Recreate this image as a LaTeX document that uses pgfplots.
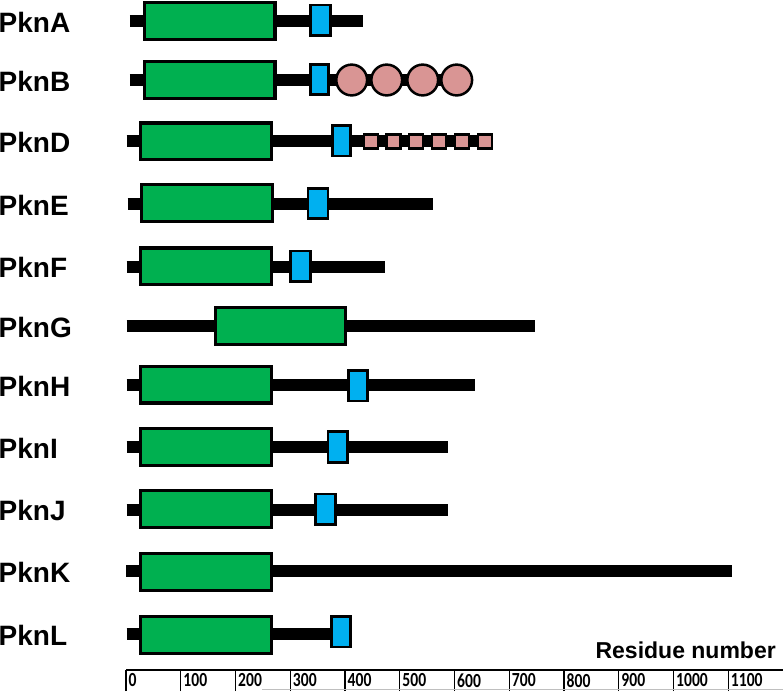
\documentclass[border=0pt]{standalone}
\usepackage{fontspec}
\setmainfont{Liberation Sans}
\newfontfamily\rulerfont[FakeStretch=0.78]{Carlito}
\usepackage{pgfplots}
\pgfplotsset{compat=1.18}
\definecolor{kgreen}{RGB}{0,176,80}
\definecolor{kblue}{RGB}{0,176,240}
\definecolor{kpink}{RGB}{217,149,148}
\begin{document}
\begin{tikzpicture}
\begin{axis}[at={(0pt,0pt)}, anchor=south west, scale only axis,
  width=783pt, height=691pt, xmin=-230.137, xmax=1200, ymin=0, ymax=691,
  y dir=reverse, hide axis, clip=false]
% backbone lines
\addplot[black, line width=12pt] coordinates {(7.3,21) (433,21)};
\addplot[black, line width=12pt] coordinates {(7.3,80) (604,80)};
\addplot[black, line width=12pt] coordinates {(1.3,141) (668,141)};
\addplot[black, line width=12pt] coordinates {(3.1,204) (561.3,204)};
\addplot[black, line width=12pt] coordinates {(1.3,266.5) (473,266.5)};
\addplot[black, line width=12pt] coordinates {(1.3,326) (747,326)};
\addplot[black, line width=12pt] coordinates {(1.3,385) (637.4,385)};
\addplot[black, line width=12pt] coordinates {(1.3,447) (588.7,447)};
\addplot[black, line width=12pt] coordinates {(1.3,509.5) (588.7,509.5)};
\addplot[black, line width=12pt] coordinates {(0,571) (1106.3,571)};
\addplot[black, line width=12pt] coordinates {(1.3,634) (400,634)};
% kinase domains (green)
\addplot[fill=kgreen, draw=black, line width=3.3pt] coordinates {(33.5,2.65) (272.3,2.65) (272.3,39.35) (33.5,39.35)} --cycle;
\addplot[fill=kgreen, draw=black, line width=3.3pt] coordinates {(33.5,61.65) (272.3,61.65) (272.3,98.35) (33.5,98.35)} --cycle;
\addplot[fill=kgreen, draw=black, line width=3.3pt] coordinates {(26.7,122.95) (266,122.95) (266,159.65) (26.7,159.65)} --cycle;
\addplot[fill=kgreen, draw=black, line width=3.3pt] coordinates {(28.6,184.45) (267.3,184.45) (267.3,221.15) (28.6,221.15)} --cycle;
\addplot[fill=kgreen, draw=black, line width=3.3pt] coordinates {(26.7,247.95) (266,247.95) (266,284.65) (26.7,284.65)} --cycle;
\addplot[fill=kgreen, draw=black, line width=3.3pt] coordinates {(163.7,307.65) (401.2,307.65) (401.2,344.35) (163.7,344.35)} --cycle;
\addplot[fill=kgreen, draw=black, line width=3.3pt] coordinates {(26.7,366.15) (266,366.15) (266,402.85) (26.7,402.85)} --cycle;
\addplot[fill=kgreen, draw=black, line width=3.3pt] coordinates {(26.7,428.65) (266,428.65) (266,465.35) (26.7,465.35)} --cycle;
\addplot[fill=kgreen, draw=black, line width=3.3pt] coordinates {(26.7,490.65) (266,490.65) (266,527.35) (26.7,527.35)} --cycle;
\addplot[fill=kgreen, draw=black, line width=3.3pt] coordinates {(26.7,553.65) (266,553.65) (266,590.35) (26.7,590.35)} --cycle;
\addplot[fill=kgreen, draw=black, line width=3.3pt] coordinates {(26.7,616.65) (266,616.65) (266,653.35) (26.7,653.35)} --cycle;
% juxtamembrane / TM (blue)
\addplot[fill=kblue, draw=black, line width=2.7pt] coordinates {(336.7,5.1) (373.2,5.1) (373.2,35.5) (336.7,35.5)} --cycle;
\addplot[fill=kblue, draw=black, line width=2.7pt] coordinates {(336.7,64.3) (370.1,64.3) (370.1,94.7) (336.7,94.7)} --cycle;
\addplot[fill=kblue, draw=black, line width=2.7pt] coordinates {(376.9,125.7) (409.7,125.7) (409.7,156.1) (376.9,156.1)} --cycle;
\addplot[fill=kblue, draw=black, line width=2.7pt] coordinates {(332.5,188.3) (368.8,188.3) (368.8,218.7) (332.5,218.7)} --cycle;
\addplot[fill=kblue, draw=black, line width=2.7pt] coordinates {(300.2,251.1) (336.7,251.1) (336.7,281.5) (300.2,281.5)} --cycle;
\addplot[fill=kblue, draw=black, line width=2.7pt] coordinates {(406.7,370.6) (441.3,370.6) (441.3,401) (406.7,401)} --cycle;
\addplot[fill=kblue, draw=black, line width=2.7pt] coordinates {(369.1,431.8) (404.8,431.8) (404.8,462.2) (369.1,462.2)} --cycle;
\addplot[fill=kblue, draw=black, line width=2.7pt] coordinates {(346.4,494) (382.3,494) (382.3,524.4) (346.4,524.4)} --cycle;
\addplot[fill=kblue, draw=black, line width=2.7pt] coordinates {(375.1,616.5) (409.7,616.5) (409.7,646.9) (375.1,646.9)} --cycle;
% PASTA domains (PknB)
\addplot[only marks, mark=*, mark size=15.4pt, mark options={fill=kpink, draw=black, line width=2.5pt}] coordinates {(412.2,80) (476.2,80) (541.9,80) (604,80)};
% NHL repeats (PknD)
\addplot[only marks, mark=square*, mark size=7pt, mark options={fill=kpink, draw=black, line width=2.5pt}] coordinates {(447.5,141.3) (488.2,141.3) (530,141.3) (571.6,141.3) (613.7,141.3) (655.7,141.3)};
% protein names
\foreach \nm/\yy in {PknA/32.5, PknB/91, PknD/152, PknE/215, PknF/277.5, PknG/337, PknH/396.5, PknI/458, PknJ/520, PknK/582, PknL/645}{
  \edef\temp{\noexpand\node[anchor=base west, inner sep=0pt, xshift=-1.5pt, font=\noexpand\bfseries\noexpand\fontsize{28}{30}\noexpand\selectfont] at (axis cs:-230.137,\yy) {\nm};}
  \temp
}
\node[anchor=base east, inner sep=0pt, font=\bfseries\fontsize{23}{25}\selectfont] at (axis cs:1187.2,658) {Residue number};
\end{axis}
\begin{axis}[at={(126pt,0pt)}, anchor=south west, scale only axis,
  width=657pt, height=21pt, xmin=0, xmax=1200, ymin=0, ymax=1,
  axis x line*=top, axis y line=none, ytick=\empty,
  axis line style={-, black, line width=1.5pt},
  xtick={0,100,200,300,400,500,600,700,800,900,1000,1100},
  xticklabels={0,100,200,300,400,500,600,700,800,900,1000,1100},
  xtick style={draw=none},
  xmajorgrids, grid style={black, line width=1.3pt},
  xticklabel style={anchor=north west, inner sep=0pt, xshift=2.5pt, yshift=-3.5pt,
    font=\rulerfont\bfseries\fontsize{20}{22}\selectfont},
  clip=false]
\addplot[gray!50, line width=1pt] coordinates {(248,0.06) (1200,0.06)};
\end{axis}
\pgfresetboundingbox
\path[use as bounding box] (0,0) rectangle (783pt,691pt);
\end{tikzpicture}
\end{document}
